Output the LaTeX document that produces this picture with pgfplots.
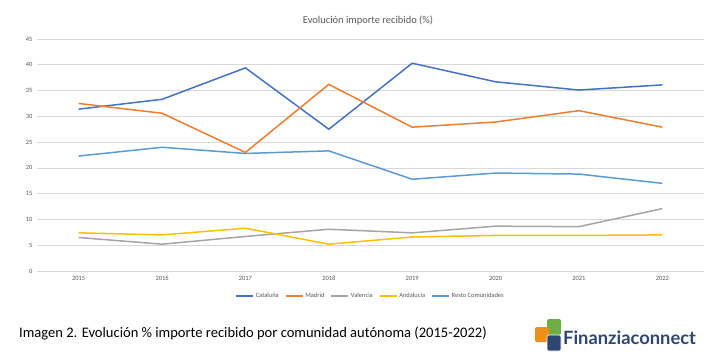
\documentclass[border=0pt]{standalone}
\usepackage{pgfplots}
\pgfplotsset{compat=1.18}
\usepackage{fontspec}
\setmainfont{Carlito}
\newfontfamily\logofont{Lato}
\definecolor{cat}{HTML}{4472C4}
\definecolor{mad}{HTML}{ED7D31}
\definecolor{val}{HTML}{A5A5A5}
\definecolor{and}{HTML}{FFC000}
\definecolor{res}{HTML}{5B9BD5}
\definecolor{gridgray}{HTML}{D9D9D9}
\definecolor{tickgray}{HTML}{595959}
\definecolor{logonavy}{HTML}{2E4672}
\definecolor{logoorange}{HTML}{EE8F1C}
\definecolor{logogreen}{HTML}{6DAF45}
\begin{document}
\begin{tikzpicture}
\path[use as bounding box] (0,0) rectangle (706bp,-363bp);
\begin{axis}[
  at={(37bp,-271bp)}, anchor=south west,
  scale only axis, width=667bp, height=232bp,
  xmin=-0.5, xmax=7.5, ymin=0, ymax=45,
  xtick={0,1,2,3,4,5,6,7},
  xticklabels={2015,2016,2017,2018,2019,2020,2021,2022},
  ytick={0,5,10,15,20,25,30,35,40,45},
  ymajorgrids, grid style={color=gridgray, line width=0.7bp},
  axis line style={draw=none}, major tick length=0pt,
  tick label style={font=\fontsize{6.5}{7}\selectfont, text=tickgray},
  /pgf/number format/assume math mode=true,
  xticklabel style={yshift=-2bp},
  yticklabel style={xshift=-1bp},
  clip=false,
  legend style={at={(0.5,-0.108)}, anchor=center, draw=none, fill=none,
    legend columns=-1, font=\fontsize{6.5}{7}\selectfont, text=tickgray,
    /tikz/every even column/.append style={column sep=4bp},
    inner sep=0pt},
  legend image code/.code={\draw[#1] (0bp,0bp) -- (17bp,0bp);},
  every axis plot/.append style={line width=1.5bp, mark=none},
]
\addplot[cat] coordinates {(0,31.4) (1,33.3) (2,39.4) (3,27.5) (4,40.3) (5,36.7) (6,35.1) (7,36.1)};
\addlegendentry{Cataluña}
\addplot[mad] coordinates {(0,32.5) (1,30.6) (2,23.0) (3,36.2) (4,27.9) (5,28.9) (6,31.1) (7,27.9)};
\addlegendentry{Madrid}
\addplot[val] coordinates {(0,6.5) (1,5.2) (2,6.7) (3,8.1) (4,7.4) (5,8.7) (6,8.6) (7,12.1)};
\addlegendentry{Valencia}
\addplot[and] coordinates {(0,7.4) (1,7.0) (2,8.3) (3,5.2) (4,6.6) (5,6.9) (6,6.9) (7,7.0)};
\addlegendentry{Andalucía}
\addplot[res] coordinates {(0,22.3) (1,24.0) (2,22.8) (3,23.3) (4,17.8) (5,19.0) (6,18.8) (7,17.0)};
\addlegendentry{Resto Comunidades}
\end{axis}
\node[text=tickgray, font=\fontsize{10.5}{12}\selectfont] at (368bp,-21bp) {Evolución importe recibido (\%)};
\node[anchor=base west, inner sep=0pt, font=\fontsize{14.6}{16}\selectfont] at (19bp,-337bp) {Imagen 2. Evolución \% importe recibido por comunidad autónoma (2015-2022)};
% logo
\fill[logogreen, rounded corners=2bp] (547bp,-319bp) rectangle (561bp,-335bp);
\fill[logoorange, rounded corners=2bp] (535bp,-327bp) rectangle (549bp,-342bp);
\fill[logonavy, rounded corners=2bp, draw=white, line width=0.6bp] (547bp,-335bp) rectangle (561bp,-351bp);
\node[anchor=base west, inner sep=0pt, text=logonavy, font=\logofont\bfseries\fontsize{18.4}{20}\selectfont] at (563bp,-344bp) {Finanziaconnect};
\end{tikzpicture}
\end{document}
